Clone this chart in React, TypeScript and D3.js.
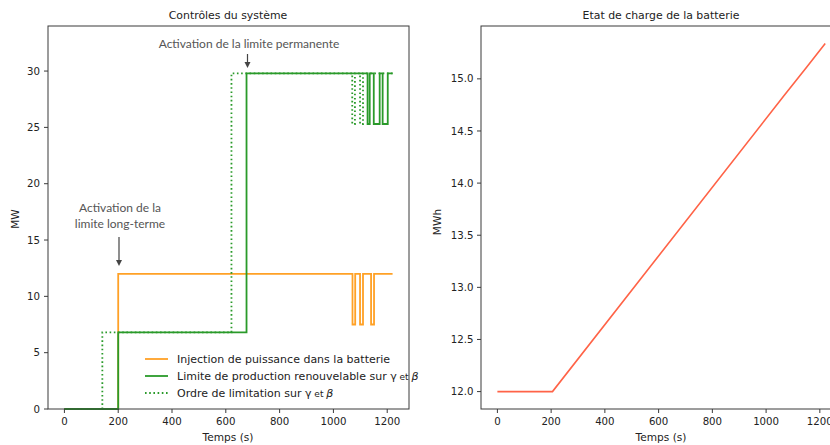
import React from "react";
import * as d3 from "d3";

// ---- Data ----
const xTicks = [0, 200, 400, 600, 800, 1000, 1200];
const yTicksLeft = [0, 5, 10, 15, 20, 25, 30];
const yTicksRight = [12.0, 12.5, 13.0, 13.5, 14.0, 14.5, 15.0];

// Injection de puissance (step after)
const injT = [0, 200, 1071, 1081, 1099, 1110, 1140, 1151, 1220];
const injV = [0, 12, 7.5, 12, 7.5, 12, 7.5, 12, 12];
// Limite de production renouvelable (step after)
const limT = [0, 200, 677, 1127, 1135, 1150, 1172, 1183, 1202, 1220];
const limV = [0, 6.8, 29.8, 25.3, 29.8, 25.3, 29.8, 25.3, 29.8, 29.8];
// Ordre de limitation (step after, dotted)
const ordT = [0, 141, 621, 1070, 1080, 1099, 1110, 1220];
const ordV = [0, 6.8, 29.8, 25.3, 29.8, 25.3, 29.8, 29.8];
// Etat de charge (MWh)
const socT = [0, 205, 1070, 1110, 1150, 1220];
const socV = [12.0, 12.0, 14.85, 14.98, 15.11, 15.34];

const FONT = "DejaVu Sans, sans-serif";
const ANN_FONT = "Lato, 'Open Sans', sans-serif";
const ORANGE = "#ffa126";
const GREEN = "#2a9a2a";
const TOMATO = "#ff6347";
const AX = "#3a3a3a";

export default function App() {
  const xL = d3.scaleLinear().domain([-61, 1281]).range([48, 409]);
  const yL = d3.scaleLinear().domain([0, 34]).range([409, 26]);
  const xR = d3.scaleLinear().domain([-61, 1281]).range([481, 841.6]);
  const yR = d3.scaleLinear().domain([11.833, 15.507]).range([409, 26]);

  const stepLine = (T: number[], V: number[]) =>
    d3
      .line<number>()
      .x((_, i) => xL(T[i]))
      .y((v) => yL(v))
      .curve(d3.curveStepAfter)(V) || "";
  const socLine =
    d3
      .line<number>()
      .x((_, i) => xR(socT[i]))
      .y((v) => yR(v))(socV) || "";

  const arrow = (x: number, y1: number, y2: number) => (
    <g>
      <line x1={x} x2={x} y1={y1} y2={y2 - 5} stroke="#444" strokeWidth={1.2} />
      <path d={`M${x - 3},${y2 - 6} L${x + 3},${y2 - 6} L${x},${y2} Z`} fill="#444" />
    </g>
  );

  return (
    <div style={{ position: "absolute", left: 0, top: 0 }}>
      <svg width={830} height={445} style={{ display: "block", background: "#fff" }}>
        {/* ===== Left chart ===== */}
        <text x={228} y={19} textAnchor="middle" fontFamily={FONT} fontSize={10.9} fill="#222">
          Contrôles du système
        </text>
        <path d={stepLine(injT, injV)} fill="none" stroke={ORANGE} strokeWidth={1.8} />
        <path d={stepLine(limT, limV)} fill="none" stroke={GREEN} strokeWidth={1.8} />
        <path
          d={stepLine(ordT, ordV)}
          fill="none"
          stroke={GREEN}
          strokeWidth={1.8}
          strokeDasharray="1.6,2.6"
        />
        <rect x={48} y={26} width={361} height={383} fill="none" stroke={AX} strokeWidth={1} />
        {xTicks.map((t) => (
          <g key={"xl" + t}>
            <line x1={xL(t)} x2={xL(t)} y1={409} y2={413} stroke={AX} />
            <text x={xL(t)} y={425} textAnchor="middle" fontFamily={FONT} fontSize={10.2} fill="#222">
              {t}
            </text>
          </g>
        ))}
        {yTicksLeft.map((t) => (
          <g key={"yl" + t}>
            <line x1={44} x2={48} y1={yL(t)} y2={yL(t)} stroke={AX} />
            <text x={40} y={yL(t) + 3.6} textAnchor="end" fontFamily={FONT} fontSize={10.2} fill="#222">
              {t}
            </text>
          </g>
        ))}
        <text x={228} y={441} textAnchor="middle" fontFamily={FONT} fontSize={10.6} fill="#222">
          Temps (s)
        </text>
        <text
          transform="translate(19.3,219) rotate(-90)"
          textAnchor="middle"
          fontFamily={FONT}
          fontSize={10.6}
          fill="#222"
        >
          MW
        </text>

        {/* Annotations */}
        <text x={249} y={48} textAnchor="middle" fontFamily={ANN_FONT} fontSize={12} fill="#555">
          Activation de la limite permanente
        </text>
        {arrow(247.5, 54, 68)}
        <text x={120} y={212} textAnchor="middle" fontFamily={ANN_FONT} fontSize={12} fill="#555">
          Activation de la
        </text>
        <text x={120} y={228} textAnchor="middle" fontFamily={ANN_FONT} fontSize={12} fill="#555">
          limite long-terme
        </text>
        {arrow(119, 237, 266)}

        {/* Legend */}
        <g fontFamily={FONT} fontSize={11} fill="#222">
          <line x1={145} x2={168} y1={359} y2={359} stroke={ORANGE} strokeWidth={1.8} />
          <text x={177} y={363}>Injection de puissance dans la batterie</text>
          <line x1={145} x2={168} y1={376} y2={376} stroke={GREEN} strokeWidth={1.8} />
          <text x={177} y={380}>
            Limite de production renouvelable sur γ
            <tspan fontSize={9}> et </tspan>
            <tspan fontStyle="italic">β</tspan>
          </text>
          <line
            x1={145}
            x2={168}
            y1={393}
            y2={393}
            stroke={GREEN}
            strokeWidth={1.8}
            strokeDasharray="1.6,2.6"
          />
          <text x={177} y={397}>
            Ordre de limitation sur γ
            <tspan fontSize={9}> et </tspan>
            <tspan fontStyle="italic">β</tspan>
          </text>
        </g>

        {/* ===== Right chart ===== */}
        <text x={661} y={19} textAnchor="middle" fontFamily={FONT} fontSize={10.9} fill="#222">
          Etat de charge de la batterie
        </text>
        <path d={socLine} fill="none" stroke={TOMATO} strokeWidth={1.6} />
        <rect x={481} y={26} width={360.6} height={383} fill="none" stroke={AX} strokeWidth={1} />
        {xTicks.map((t) => (
          <g key={"xr" + t}>
            <line x1={xR(t)} x2={xR(t)} y1={409} y2={413} stroke={AX} />
            <text x={xR(t)} y={425} textAnchor="middle" fontFamily={FONT} fontSize={10.2} fill="#222">
              {t}
            </text>
          </g>
        ))}
        {yTicksRight.map((t) => (
          <g key={"yr" + t}>
            <line x1={477} x2={481} y1={yR(t)} y2={yR(t)} stroke={AX} />
            <text x={473.5} y={yR(t) + 3.6} textAnchor="end" fontFamily={FONT} fontSize={10.2} fill="#222">
              {t.toFixed(1)}
            </text>
          </g>
        ))}
        <text x={661} y={441} textAnchor="middle" fontFamily={FONT} fontSize={10.6} fill="#222">
          Temps (s)
        </text>
        <text
          transform="translate(441,222) rotate(-90)"
          textAnchor="middle"
          fontFamily={FONT}
          fontSize={10.6}
          fill="#222"
        >
          MWh
        </text>
      </svg>
    </div>
  );
}
